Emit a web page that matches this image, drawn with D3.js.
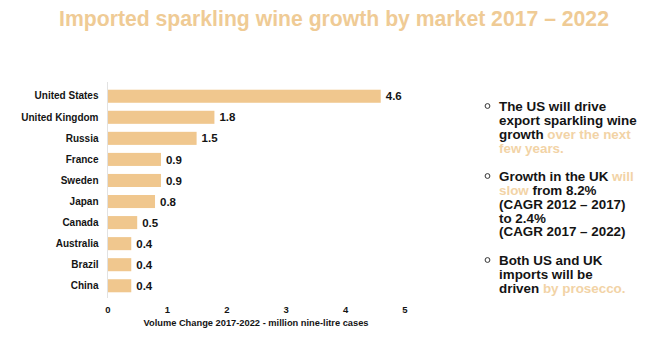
<!DOCTYPE html>
<html>
<head>
<meta charset="utf-8">
<script src="https://cdn.jsdelivr.net/npm/d3@7"></script>
<style>
  html, body { margin: 0; padding: 0; background: #fff; }
  svg { display: block; font-family: "Liberation Sans", Arial, sans-serif; }
</style>
</head>
<body>
<svg id="chart" width="647" height="344"></svg>
<script>
// Markets and their volume change 2017-2022 (million nine-litre cases)
const markets = ["United States", "United Kingdom", "Russia", "France", "Sweden",
                 "Japan", "Canada", "Australia", "Brazil", "China"];
const volumeChange = [4.6, 1.8, 1.5, 0.9, 0.9, 0.8, 0.5, 0.4, 0.4, 0.4];
const xTicks = [0, 1, 2, 3, 4, 5];

const titleText = "Imported sparkling wine growth by market 2017 \u2013 2022";
const axisTitle = "Volume Change 2017-2022 - million nine-litre cases";

// Commentary bullets: each line is a list of [text, highlighted?] runs
const bullets = [
  [
    [["The US will drive", false]],
    [["export sparkling wine", false]],
    [["growth ", false], ["over the next", true]],
    [["few years.", true]]
  ],
  [
    [["Growth in the UK ", false], ["will", true]],
    [["slow", true], [" from 8.2%", false]],
    [["(CAGR 2012 \u2013 2017)", false]],
    [["to 2.4%", false]],
    [["(CAGR 2017 \u2013 2022)", false]]
  ],
  [
    [["Both US and UK", false]],
    [["imports will be", false]],
    [["driven ", false], ["by prosecco.", true]]
  ]
];

const barColor = "#f0c78e";
const accent = "#efcb95";
const highlight = "#f2d3a6";
const ink = "#141414";

const svg = d3.select("#chart");

// Title
svg.append("text")
  .attr("x", 334).attr("y", 26)
  .attr("text-anchor", "middle")
  .attr("font-size", 21.2).attr("font-weight", "bold")
  .attr("fill", accent)
  .text(titleText);

// Bar chart area
const x = d3.scaleLinear().domain([0, 5]).range([107.5, 404.5]);
const y = d3.scaleBand().domain(markets).range([85.5, 296.5]).paddingInner(0.38).paddingOuter(0.2);

const data = markets.map((m, i) => ({ market: m, value: volumeChange[i] }));

svg.append("g").selectAll("rect")
  .data(data).join("rect")
  .attr("x", x(0))
  .attr("y", d => y(d.market))
  .attr("width", d => x(d.value) - x(0))
  .attr("height", y.bandwidth())
  .attr("fill", barColor);

// Value labels
svg.append("g").selectAll("text")
  .data(data).join("text")
  .attr("x", d => x(d.value) + 5)
  .attr("y", d => y(d.market) + y.bandwidth() / 2)
  .attr("dy", "0.36em")
  .attr("font-size", 11.5).attr("font-weight", "bold")
  .attr("fill", ink)
  .text(d => d.value.toFixed(1));

// Category axis (vertical baseline)
const yAxis = svg.append("g")
  .attr("transform", `translate(${x(0)},0)`)
  .call(d3.axisLeft(y).tickSize(0).tickPadding(9));
yAxis.select(".domain").attr("stroke", "#e2e2e2").attr("d", "M0,82V298");
yAxis.selectAll("text")
  .attr("font-size", 10).attr("font-weight", "bold")
  .attr("font-family", "Liberation Sans, Arial, sans-serif")
  .attr("fill", ink);

// Value axis (labels only)
const xAxis = svg.append("g")
  .attr("transform", "translate(0,304)")
  .call(d3.axisBottom(x).tickValues(xTicks).tickFormat(d3.format("d")).tickSize(0).tickPadding(2));
xAxis.select(".domain").remove();
xAxis.selectAll("text")
  .attr("font-size", 9.5).attr("font-weight", "bold")
  .attr("font-family", "Liberation Sans, Arial, sans-serif")
  .attr("fill", ink);

svg.append("text")
  .attr("x", 256).attr("y", 326)
  .attr("text-anchor", "middle")
  .attr("font-size", 9.3).attr("font-weight", "bold")
  .attr("fill", ink)
  .text(axisTitle);

// Commentary
const lineH = 13.9;
const starts = [106, 176, 260];
const note = svg.append("g");
bullets.forEach((lines, bi) => {
  note.append("circle")
    .attr("cx", 487.5).attr("cy", starts[bi])
    .attr("r", 2.4)
    .attr("fill", "none").attr("stroke", "#333").attr("stroke-width", 1);
  lines.forEach((runs, li) => {
    const t = note.append("text")
      .attr("x", 499).attr("y", starts[bi] + li * lineH)
      .attr("dy", "0.36em")
      .attr("font-size", 13.4).attr("font-weight", "bold")
      .attr("fill", ink);
    runs.forEach(([s, hi]) => {
      t.append("tspan").attr("fill", hi ? highlight : ink).text(s);
    });
  });
});
</script>
</body>
</html>
